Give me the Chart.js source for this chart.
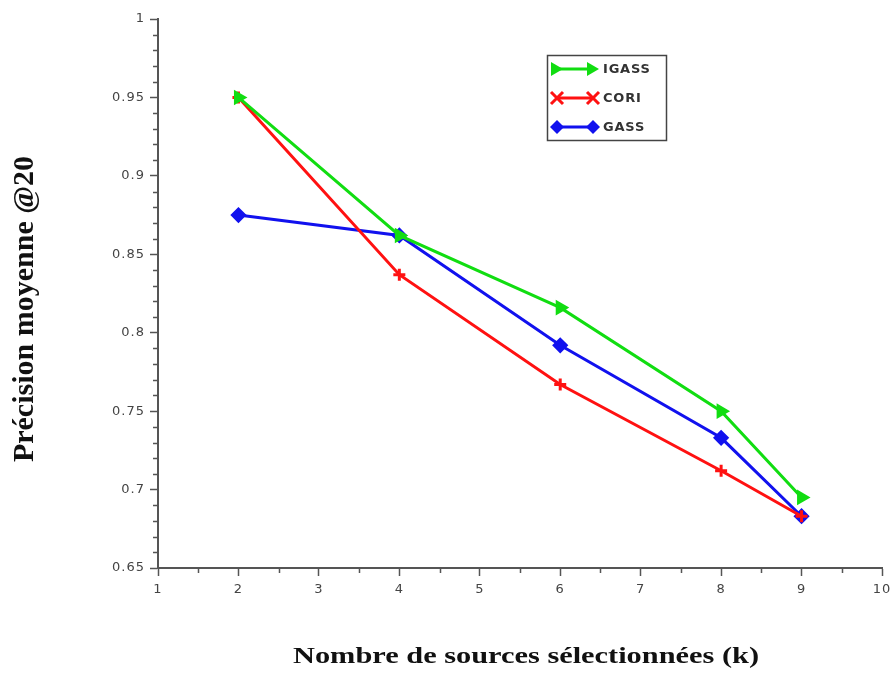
<!DOCTYPE html>
<html>
<head>
<meta charset="utf-8">
<script src="https://cdn.jsdelivr.net/npm/chart.js@4/dist/chart.umd.min.js"></script>
<style>
  html, body { margin: 0; padding: 0; background: #fff; }
  #wrap { width: 892px; height: 673px; }
</style>
</head>
<body>
<div id="wrap"><canvas id="chart" width="892" height="673"></canvas></div>
<script>
// Data
const kValues = [2, 4, 6, 8, 9];
const igassValues = [0.95, 0.862, 0.816, 0.750, 0.695];
const coriValues = [0.95, 0.837, 0.767, 0.712, 0.683];
const gassValues = [0.875, 0.862, 0.792, 0.733, 0.683];
const seriesNames = ["IGASS", "CORI", "GASS"];
const xTitle = "Nombre de sources sélectionnées (k)";
const yTitle = "Précision moyenne @20";

const AXIS_COLOR = "#555";
const LABEL_FONT = { family: "'DejaVu Sans', sans-serif", size: 13 };
const SERIF = "'Liberation Serif', 'Times New Roman', serif";

function toPoints(values) {
  return kValues.map((k, i) => ({ x: k, y: values[i] }));
}

/**
 * The reference tick labels are wide, add a little letter spacing
 */
const wideText = {
  id: "wideText",
  beforeLayout(chart) { chart.ctx.letterSpacing = "1px"; },
  beforeDraw(chart) { chart.ctx.letterSpacing = "1px"; },
};

/**
 * Minor tick marks on both axes
 */
const minorTicks = {
  id: "minorTicks",
  afterDraw(chart) {
    const { ctx, chartArea } = chart;
    const xs = chart.scales.x;
    const ys = chart.scales.y;
    ctx.save();
    ctx.strokeStyle = AXIS_COLOR;
    ctx.lineWidth = 1.5;
    ctx.beginPath();
    for (let i = 65; i <= 100; i++) {
      if (i % 5 === 0) continue;
      const py = Math.round(ys.getPixelForValue(i / 100)) + 0.5;
      ctx.moveTo(chartArea.left - 5, py);
      ctx.lineTo(chartArea.left, py);
    }
    for (let i = 1; i < 10; i++) {
      const px = Math.round(xs.getPixelForValue(i + 0.5)) + 0.5;
      ctx.moveTo(px, chartArea.bottom);
      ctx.lineTo(px, chartArea.bottom + 5);
    }
    ctx.stroke();
    ctx.restore();
  },
};

/**
 * Axis titles, drawn by hand: the x title is stretched wide like the reference
 */
const axisTitles = {
  id: "axisTitles",
  afterDraw(chart) {
    const { ctx, chartArea } = chart;
    ctx.save();
    ctx.fillStyle = "#111";
    ctx.textAlign = "center";
    ctx.textBaseline = "middle";
    ctx.letterSpacing = "0px";

    ctx.save();
    ctx.translate(526, 657);
    ctx.scale(1.32, 1);
    ctx.font = "bold 23px " + SERIF;
    ctx.fillText(xTitle, 0, 0);
    ctx.restore();

    ctx.translate(25, 309);
    ctx.rotate(-Math.PI / 2);
    ctx.font = "bold 30px " + SERIF;
    ctx.fillText(yTitle, 0, 0);
    ctx.restore();
  },
};

/**
 * Boxed legend inside the plot, line with a marker at each end
 */
function drawMarker(ctx, style, x, y, color) {
  ctx.fillStyle = color;
  ctx.strokeStyle = color;
  ctx.lineWidth = 3;
  ctx.beginPath();
  if (style === "triangle") {
    ctx.moveTo(x + 6, y);
    ctx.lineTo(x - 6, y - 7);
    ctx.lineTo(x - 6, y + 7);
    ctx.closePath();
    ctx.fill();
  } else if (style === "x") {
    ctx.moveTo(x - 6, y - 6);
    ctx.lineTo(x + 6, y + 6);
    ctx.moveTo(x + 6, y - 6);
    ctx.lineTo(x - 6, y + 6);
    ctx.stroke();
  } else {
    ctx.moveTo(x, y - 7);
    ctx.lineTo(x + 7, y);
    ctx.lineTo(x, y + 7);
    ctx.lineTo(x - 7, y);
    ctx.closePath();
    ctx.fill();
  }
}

const boxLegend = {
  id: "boxLegend",
  afterDraw(chart) {
    const { ctx } = chart;
    const styles = ["triangle", "x", "diamond"];
    const left = 547, top = 55, w = 119, h = 85;
    ctx.save();
    ctx.fillStyle = "#fff";
    ctx.fillRect(left, top, w, h);
    ctx.strokeStyle = "#444";
    ctx.lineWidth = 1.5;
    ctx.strokeRect(left + 0.5, top + 0.5, w, h);
    chart.data.datasets.forEach((ds, i) => {
      const y = 69 + i * 29;
      ctx.strokeStyle = ds.borderColor;
      ctx.lineWidth = 3;
      ctx.beginPath();
      ctx.moveTo(556, y);
      ctx.lineTo(593, y);
      ctx.stroke();
      drawMarker(ctx, styles[i], 557, y, ds.borderColor);
      drawMarker(ctx, styles[i], 593, y, ds.borderColor);
      ctx.fillStyle = "#333";
      ctx.font = "bold 13px 'DejaVu Sans', sans-serif";
      ctx.letterSpacing = "0.8px";
      ctx.textBaseline = "middle";
      ctx.fillText(ds.label, 603, y + 1);
    });
    ctx.restore();
  },
};

function lineDataset(label, values, color, pointStyle, rotation) {
  return {
    label: label,
    data: toPoints(values),
    borderColor: color,
    backgroundColor: color,
    borderWidth: 3,
    pointStyle: pointStyle,
    rotation: rotation,
    pointRadius: 6,
    pointBorderWidth: 3,
    tension: 0,
  };
}

document.addEventListener("DOMContentLoaded", () => {
  new Chart(document.getElementById("chart"), {
    type: "line",
    data: {
      datasets: [
        lineDataset(seriesNames[0], igassValues, "#11dd11", "triangle", 90),
        lineDataset(seriesNames[1], coriValues, "#ff1111", "cross", 0),
        lineDataset(seriesNames[2], gassValues, "#1111ee", "rectRot", 0),
      ],
    },
    options: {
      responsive: false,
      animation: false,
      layout: { padding: { top: 19, right: 0, left: 0, bottom: 0 } },
      plugins: {
        legend: { display: false },
        tooltip: { enabled: false },
      },
      scales: {
        x: {
          type: "linear",
          min: 1,
          max: 10,
          afterFit(scale) {
            scale.height = 673 - 568;
            scale.paddingLeft = 0;
            scale.paddingRight = 10;
          },
          ticks: {
            stepSize: 1,
            color: "#444",
            font: LABEL_FONT,
            padding: 6,
            maxRotation: 0,
          },
          grid: { drawOnChartArea: false, drawTicks: true, tickLength: 8, tickWidth: 1.5, tickColor: AXIS_COLOR },
          border: { color: AXIS_COLOR, width: 2 },
        },
        y: {
          min: 0.65,
          max: 1,
          afterFit(scale) { scale.width = 158; },
          ticks: {
            stepSize: 0.05,
            color: "#444",
            font: LABEL_FONT,
            padding: 5,
            callback: (v) => String(Number(v.toFixed(2))),
          },
          grid: { drawOnChartArea: false, drawTicks: true, tickLength: 8, tickWidth: 1.5, tickColor: AXIS_COLOR },
          border: { color: AXIS_COLOR, width: 2 },
        },
      },
    },
    plugins: [wideText, minorTicks, axisTitles, boxLegend],
  });
});
</script>
</body>
</html>
